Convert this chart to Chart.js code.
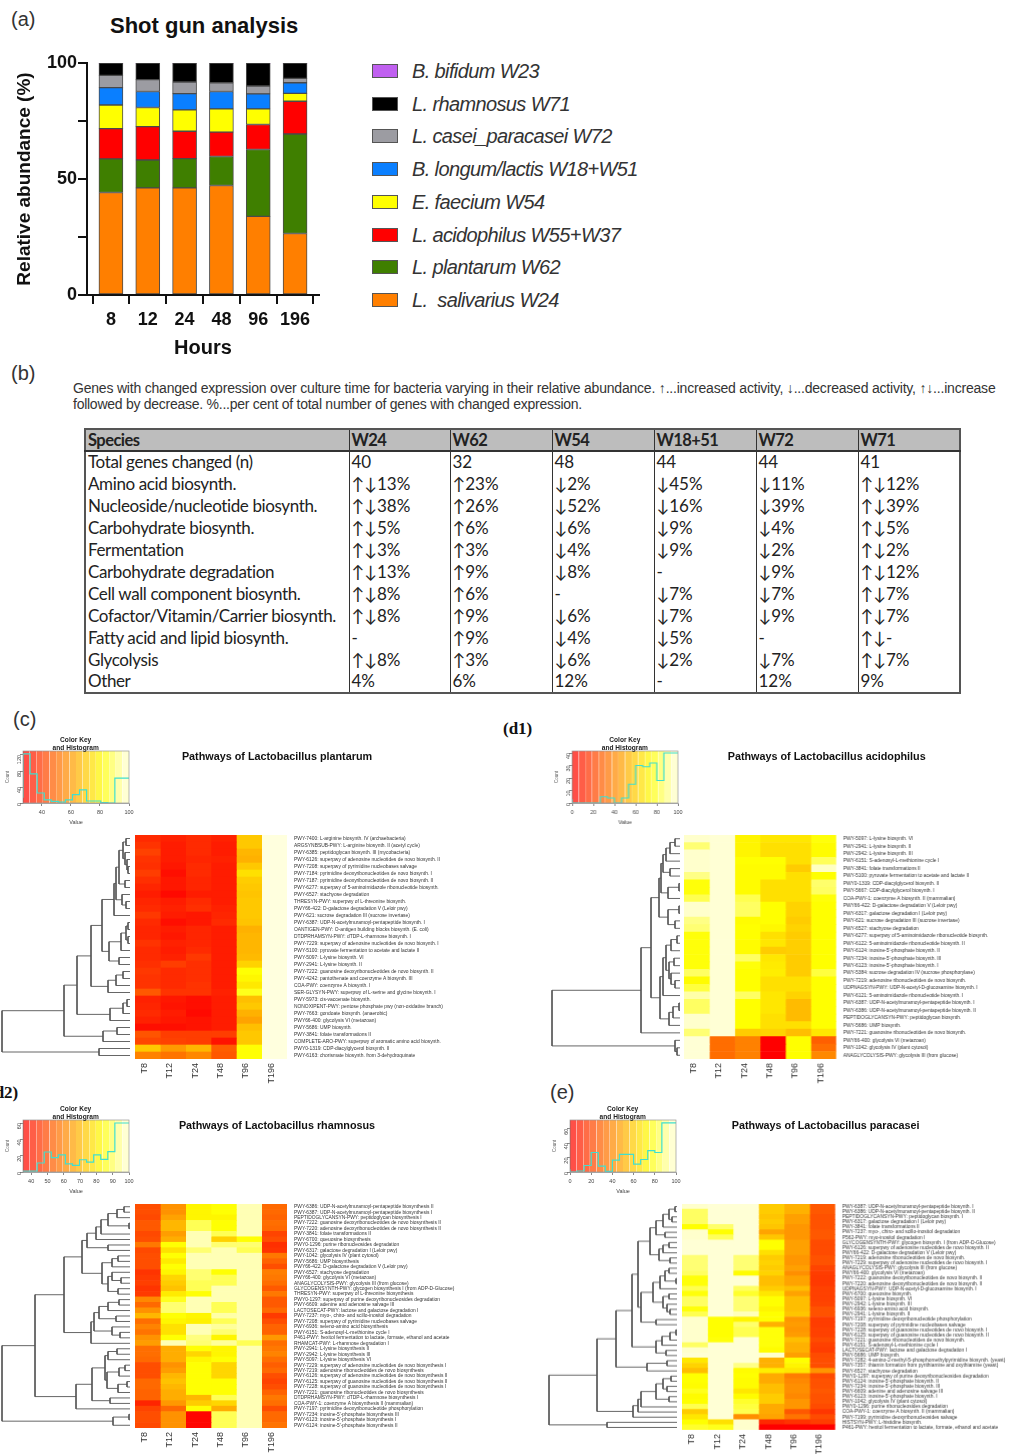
<!DOCTYPE html>
<html>
<head>
<meta charset="utf-8">
<script src="https://cdn.jsdelivr.net/npm/chart.js@4"></script>
<style>
html, body { margin: 0; padding: 0; background: #fff; }
#page { position: relative; width: 1011px; height: 1454px; overflow: hidden; font-family: "Liberation Sans", Arial, sans-serif; color: #222; }
#page canvas { position: absolute; }
.txt { position: absolute; white-space: pre; }
.blur { filter: blur(0.45px); }
#geneTable { position: absolute; left: 84px; top: 428px; width: 875px; border-collapse: collapse; table-layout: fixed;
  font-family: Lato, "DejaVu Sans", sans-serif; font-size: 17px; line-height: 18px; color: #222; border: 2px solid #555; }
#geneTable th { background: #bdbdbd; text-align: left; font-weight: bold; font-size: 16.5px; letter-spacing: -0.55px; height: 20px; padding: 0 0 0 2px; border-bottom: 2px solid #333; border-left: 1.5px solid #333; white-space: nowrap; }
#geneTable td { height: 22px; padding: 0 0 1px 2px; box-sizing: border-box; border-left: 1.5px solid #333; white-space: nowrap; }
#geneTable td:first-child { letter-spacing: -0.38px; }
</style>
</head>
<body>
<div id="page"></div>
<script>
// (a) shotgun abundance, % per time point
const hours = ['8', '12', '24', '48', '96', '196'];
const salivarius = [44.2, 46.2, 46.2, 47.2, 33.9, 26.5];
const plantarum = [14.5, 12.0, 12.6, 12.5, 28.8, 42.9];
const acidophilus = [13.0, 14.4, 11.8, 10.5, 10.8, 14.1];
const faecium = [10.2, 8.2, 9.2, 10.0, 6.7, 3.4];
const longum = [7.5, 6.9, 7.0, 7.5, 6.5, 4.6];
const casei = [5.3, 5.1, 5.0, 3.8, 3.4, 1.9];
const rhamnosus = [5.3, 7.2, 8.2, 8.5, 9.9, 6.6];
const bifidum = [0, 0, 0, 0, 0, 0];
const abundanceNames = ['L.  salivarius W24', 'L. plantarum W62', 'L. acidophilus W55+W37', 'E. faecium W54', 'B. longum/lactis W18+W51', 'L. casei_paracasei W72', 'L. rhamnosus W71', 'B. bifidum W23'];
const abundanceColors = ['#ff7f00', '#3f7f00', '#ff0000', '#ffff00', '#0a7fff', '#9c9ca2', '#000000', '#c060f0'];

// (b) table
const tableHead = ['Species', 'W24', 'W62', 'W54', 'W18+51', 'W72', 'W71'];
const tableRows = [
  ['Total genes changed (n)', '40', '32', '48', '44', '44', '41'],
  ['Amino acid biosynth.', '↑↓13%', '↑23%', '↓2%', '↓45%', '↓11%', '↑↓12%'],
  ['Nucleoside/nucleotide biosynth.', '↑↓38%', '↑26%', '↓52%', '↓16%', '↓39%', '↑↓39%'],
  ['Carbohydrate biosynth.', '↑↓5%', '↑6%', '↓6%', '↓9%', '↓4%', '↑↓5%'],
  ['Fermentation', '↑↓3%', '↑3%', '↓4%', '↓9%', '↓2%', '↑↓2%'],
  ['Carbohydrate degradation', '↑↓13%', '↑9%', '↓8%', '-', '↓9%', '↑↓12%'],
  ['Cell wall component biosynth.', '↑↓8%', '↑6%', '-', '↓7%', '↓7%', '↑↓7%'],
  ['Cofactor/Vitamin/Carrier biosynth.', '↑↓8%', '↑9%', '↓6%', '↓7%', '↓9%', '↑↓7%'],
  ['Fatty acid and lipid biosynth.', '-', '↑9%', '↓4%', '↓5%', '-', '↑↓-'],
  ['Glycolysis', '↑↓8%', '↑3%', '↓6%', '↓2%', '↓7%', '↑↓7%'],
  ['Other', '4%', '6%', '12%', '-', '12%', '9%']
];
const tableWidths = [264, 101, 102, 102, 102, 102, 102];

const timeCols = ['T8', 'T12', 'T24', 'T48', 'T96', 'T196'];

// (c) L. plantarum
const rowsC = ['PWY-7400: L-arginine biosynth. IV (archaebacteria)', 'ARGSYNBSUB-PWY: L-arginine biosynth. II (acetyl cycle)', 'PWY-6385: peptidoglycan biosynth. III (mycobacteria)', 'PWY-6126: superpwy of adenosine nucleotides de novo biosynth. II', 'PWY-7208: superpwy of pyrimidine nucleobases salvage', 'PWY-7184: pyrimidine deoxyribonucleotides de novo biosynth. I', 'PWY-7187: pyrimidine deoxyribonucleotides de novo biosynth. II', 'PWY-6277: superpwy of 5-aminoimidazole ribonucleotide biosynth.', 'PWY-6527: stachyose degradation', 'THRESYN-PWY: superpwy of L-threonine biosynth.', 'PWY66-422: D-galactose degradation V (Leloir pwy)', 'PWY-621: sucrose degradation III (sucrose invertase)', 'PWY-6387: UDP-N-acetylmuramoyl-pentapeptide biosynth. I', 'OANTIGEN-PWY: O-antigen building blocks biosynth. (E. coli)', 'DTDPRHAMSYN-PWY: dTDP-L-rhamnose biosynth. I', 'PWY-7229: superpwy of adenosine nucleotides de novo biosynth. I', 'PWY-5100: pyruvate fermentation to acetate and lactate II', 'PWY-5097: L-lysine biosynth. VI', 'PWY-2941: L-lysine biosynth. II', 'PWY-7222: guanosine deoxyribonucleotides de novo biosynth. II', 'PWY-4242: pantothenate and coenzyme A biosynth. III', 'COA-PWY: coenzyme A biosynth. I', 'SER-GLYSYN-PWY: superpwy of L-serine and glycine biosynth. I', 'PWY-5973: cis-vaccenate biosynth.', 'NONOXIPENT-PWY: pentose phosphate pwy (non-oxidative branch)', 'PWY-7663: gondoate biosynth. (anaerobic)', 'PWY66-400: glycolysis VI (metazoan)', 'PWY-5686: UMP biosynth.', 'PWY-3841: folate transformations II', 'COMPLETE-ARO-PWY: superpwy of aromatic amino acid biosynth.', 'PWY0-1319: CDP-diacylglycerol biosynth. II', 'PWY-6163: chorismate biosynth. from 3-dehydroquinate'];
const valsC = [[36,34,36,34,70,100],[38,33,36,33,70,100],[41,33,36,33,66,100],[38,33,35,34,65,100],[37,32,36,33,70,100],[40,30,36,33,75,100],[37,32,35,33,71,100],[35,32,35,33,70,100],[33,29,33,33,69,100],[35,33,36,33,70,100],[36,34,37,34,70,100],[39,33,32,35,70,100],[36,30,32,36,69,100],[35,33,35,33,65,100],[35,32,35,33,66,100],[38,34,35,33,66,100],[36,33,36,33,66,100],[36,34,39,33,67,100],[37,40,37,33,72,100],[39,36,37,33,82,100],[38,36,37,33,80,100],[38,36,38,33,77,100],[46,38,38,34,84,100],[34,32,30,33,68,100],[35,31,30,33,70,100],[36,33,29,33,65,100],[34,32,31,33,62,100],[30,30,31,33,68,100],[45,40,40,40,70,100],[42,41,40,31,70,100],[70,60,66,47,82,100],[55,52,56,46,82,100]];
const histC = [13,123,73,25,8,4,2,8,21,33,5,5,1,0,62];
const treeC = [128,[66,[53,[39,[28,[16,[14,[11,[7,[4,0,1],[5,2,[3,3,[2,4,5]]]],[5,6,7]],[8,8,[4,9,10]]],11],[21,[9,[4,[2,12,13],[2,14,15]],16],[11,17,18]]],[22,[14,[7,19,20],21],22]],[20,[7,[3,23,24],25],26]],[27,[13,27,28],29]],[31,30,31]];

// (d1) L. acidophilus
const rowsD = ['PWY-5097: L-lysine biosynth. VI', 'PWY-2941: L-lysine biosynth. II', 'PWY-2942: L-lysine biosynth. III', 'PWY-6151: S-adenosyl-L-methionine cycle I', 'PWY-3841: folate transformations II', 'PWY-5100: pyruvate fermentation to acetate and lactate II', 'PWY0-1319: CDP-diacylglycerol biosynth. II', 'PWY-5667: CDP-diacylglycerol biosynth. I', 'COA-PWY-1: coenzyme A biosynth. II (mammalian)', 'PWY66-422: D-galactose degradation V (Leloir pwy)', 'PWY-6317: galactose degradation I (Leloir pwy)', 'PWY-621: sucrose degradation III (sucrose invertase)', 'PWY-6527: stachyose degradation', 'PWY-6277: superpwy of 5-aminoimidazole ribonucleotide biosynth.', 'PWY-6122: 5-aminoimidazole ribonucleotide biosynth. II', 'PWY-6124: inosine-5\'-phosphate biosynth. II', 'PWY-7234: inosine-5\'-phosphate biosynth. III', 'PWY-6123: inosine-5\'-phosphate biosynth. I', 'PWY-5384: sucrose degradation IV (sucrose phosphorylase)', 'PWY-7219: adenosine ribonucleotides de novo biosynth.', 'UDPNAGSYN-PWY: UDP-N-acetyl-D-glucosamine biosynth. I', 'PWY-6121: 5-aminoimidazole ribonucleotide biosynth. I', 'PWY-6387: UDP-N-acetylmuramoyl-pentapeptide biosynth. I', 'PWY-6386: UDP-N-acetylmuramoyl-pentapeptide biosynth. II', 'PEPTIDOGLYCANSYN-PWY: peptidoglycan biosynth.', 'PWY-5686: UMP biosynth.', 'PWY-7221: guanosine ribonucleotides de novo biosynth.', 'PWY66-400: glycolysis VI (metazoan)', 'PWY-1042: glycolysis IV (plant cytosol)', 'ANAGLYCOLYSIS-PWY: glycolysis III (from glucose)'];
const valsD = [[98,99,72,68,68,76],[88,99,72,66,66,74],[98,99,72,66,66,74],[98,99,75,75,66,85],[98,99,74,74,60,97],[90,99,74,74,66,75],[76,99,74,66,66,87],[76,99,74,66,66,86],[84,99,84,66,66,76],[98,99,86,75,62,75],[98,99,86,75,62,75],[90,99,74,75,60,75],[88,99,75,73,62,75],[76,99,75,66,60,75],[76,99,74,68,61,75],[76,99,74,60,61,75],[76,99,86,68,60,75],[76,99,76,69,60,75],[86,99,75,70,60,82],[74,99,75,66,66,75],[82,99,75,66,66,75],[94,99,86,68,62,75],[86,99,75,68,55,75],[86,99,75,68,55,75],[98,99,75,66,55,75],[98,99,75,66,66,75],[88,99,60,62,56,68],[99,32,38,0,75,28],[99,32,38,0,75,32],[99,32,38,0,75,40]];
const histD = [3,0,0,0,0,5,4,0,4,15,30,29,32,18,40];
const treeD = [128,[39,[29,[21,[19,[17,[14,[10,[5,0,1],2],3],[10,4,5]],[12,[1,6,7],8]],[12,[1,9,10],[5,11,12]]],[20,[17,[14,[9,[3,13,14],15],[11,[6,16,17],[9,18,[5,19,20]]]],21],[11,[7,[1,22,23],24],25]]],26],[5,27,[3,28,29]]];

// (d2) L. rhamnosus
const rowsR = ['PWY-6386: UDP-N-acetylmuramoyl-pentapeptide biosynthesis II', 'PWY-6387: UDP-N-acetylmuramoyl-pentapeptide biosynthesis I', 'PEPTIDOGLYCANSYN-PWY: peptidoglycan biosynthesis I', 'PWY-7222: guanosine deoxyribonucleotides de novo biosynthesis II', 'PWY-7220: adenosine deoxyribonucleotides de novo biosynthesis II', 'PWY-3841: folate transformations II', 'PWY-6700: queuosine biosynthesis', 'PWY0-1296: purine ribonucleosides degradation', 'PWY-6317: galactose degradation I (Leloir pwy)', 'PWY-1042: glycolysis IV (plant cytosol)', 'PWY-5686: UMP biosynthesis', 'PWY66-422: D-galactose degradation V (Leloir pwy)', 'PWY-6527: stachyose degradation', 'PWY66-400: glycolysis VI (metazoan)', 'ANAGLYCOLYSIS-PWY: glycolysis III (from glucose)', 'GLYCOGENSYNTH-PWY: glycogen biosynthesis I (from ADP-D-Glucose)', 'THRESYN-PWY: superpwy of L-threonine biosynthesis', 'PWY0-1297: superpwy of purine deoxyribonucleosides degradation', 'PWY-6609: adenine and adenosine salvage III', 'LACTOSECAT-PWY: lactose and galactose degradation I', 'PWY-7237: myo-, chiro- and scillo-inositol degradation', 'PWY-7208: superpwy of pyrimidine nucleobases salvage', 'PWY-6936: seleno-amino acid biosynthesis', 'PWY-6151: S-adenosyl-L-methionine cycle I', 'P461-PWY: hexitol fermentation to lactate, formate, ethanol and acetate', 'RHAMCAT-PWY: L-rhamnose degradation I', 'PWY-2941: L-lysine biosynthesis II', 'PWY-2942: L-lysine biosynthesis III', 'PWY-5097: L-lysine biosynthesis VI', 'PWY-7229: superpwy of adenosine nucleotides de novo biosynthesis I', 'PWY-7219: adenosine ribonucleotides de novo biosynthesis', 'PWY-6126: superpwy of adenosine nucleotides de novo biosynthesis II', 'PWY-6125: superpwy of guanosine nucleotides de novo biosynthesis II', 'PWY-7228: superpwy of guanosine nucleotides de novo biosynthesis I', 'PWY-7221: guanosine ribonucleotides de novo biosynthesis', 'DTDPRHAMSYN-PWY: dTDP-L-rhamnose biosynthesis I', 'COA-PWY-1: coenzyme A biosynthesis II (mammalian)', 'PWY-7197: pyrimidine deoxyribonucleotide phosphorylation', 'PWY-7234: inosine-5\'-phosphate biosynthesis III', 'PWY-6123: inosine-5\'-phosphate biosynthesis I', 'PWY-6124: inosine-5\'-phosphate biosynthesis II'];
const valsR = [[50,63,82,84,97,55],[50,63,82,84,97,55],[49,66,82,82,97,54],[52,70,90,84,97,56],[52,70,90,84,97,55],[49,65,97,90,97,48],[50,68,97,75,84,50],[58,84,97,92,92,44],[49,78,92,97,90,45],[50,84,97,97,97,58],[50,80,97,97,97,54],[50,84,97,97,97,50],[45,82,92,84,97,59],[46,76,92,90,97,58],[47,74,90,90,97,56],[45,72,90,97,97,52],[46,80,84,97,97,58],[61,86,97,97,97,52],[55,92,97,90,97,52],[63,92,97,90,97,55],[70,84,82,96,97,46],[56,82,81,90,97,50],[60,78,97,95,97,54],[57,78,97,92,97,54],[63,84,93,82,97,64],[65,97,92,95,90,56],[56,68,84,82,97,58],[56,68,76,82,97,60],[55,68,82,84,97,56],[50,63,84,76,97,53],[50,65,84,76,97,55],[50,70,84,76,97,50],[55,72,84,84,97,48],[55,70,84,84,97,50],[54,68,84,84,97,54],[54,68,70,90,97,58],[42,64,74,76,97,56],[48,55,84,68,97,50],[50,63,36,90,97,55],[50,63,36,90,97,55],[49,63,36,90,97,57]];
const histR = [1,1,1,11,24.5,17.5,21,10,8,15,12,21,15.5,25,60];
const treeR = [128,[95,[66,[48,[43,[34,[29,[22,[13,[6,0,1],2],[1,3,4]],5],6],[22,7,8]],[28,[18,[12,9,10],11],[22,[18,12,[9,13,14]],[12,15,16]]]],[39,[36,[31,[22,[11,17,18],19],[14,20,21]],[18,22,[10,23,24]]],25]],[54,[38,[25,[22,[13,26,27],28],[23,[11,[5,29,30],31],[12,[3,32,33],34]]],[20,35,36]],37]],[17,[1,38,39],40]];

// (e) L. paracasei
const rowsE = ['PWY-6387: UDP-N-acetylmuramoyl-pentapeptide biosynth. I', 'PWY-6386: UDP-N-acetylmuramoyl-pentapeptide biosynth. II', 'PEPTIDOGLYCANSYN-PWY: peptidoglycan biosynth. I', 'PWY-6317: galactose degradation I (Leloir pwy)', 'PWY-3841: folate transformations II', 'PWY-7237: myo-, chiro- and scillo-inositol degradation', 'P562-PWY: myo-inositol degradation I', 'GLYCOGENSYNTH-PWY: glycogen biosynth. I (from ADP-D-Glucose)', 'PWY-6126: superpwy of adenosine nucleotides de novo biosynth. II', 'PWY66-422: D-galactose degradation V (Leloir pwy)', 'PWY-7219: adenosine ribonucleotides de novo biosynth.', 'PWY-7229: superpwy of adenosine nucleotides de novo biosynth. I', 'ANAGLYCOLYSIS-PWY: glycolysis III (from glucose)', 'PWY66-400: glycolysis VI (metazoan)', 'PWY-7222: guanosine deoxyribonucleotides de novo biosynth. II', 'PWY-7220: adenosine deoxyribonucleotides de novo biosynth. II', 'UDPNAGSYN-PWY: UDP-N-acetyl-D-glucosamine biosynth. I', 'PWY-6700: queuosine biosynth.', 'PWY-5097: L-lysine biosynth. VI', 'PWY-2942: L-lysine biosynth. III', 'PWY-6936: seleno-amino acid biosynth.', 'PWY-2941: L-lysine biosynth. II', 'PWY-7197: pyrimidine deoxyribonucleotide phosphorylation', 'PWY-7208: superpwy of pyrimidine nucleobases salvage', 'PWY-7228: superpwy of guanosine nucleotides de novo biosynth. I', 'PWY-6125: superpwy of guanosine nucleotides de novo biosynth. II', 'PWY-7221: guanosine ribonucleotides de novo biosynth.', 'PWY-6151: S-adenosyl-L-methionine cycle I', 'LACTOSECAT-PWY: lactose and galactose degradation I', 'PWY-5686: UMP biosynth.', 'PWY-7282: 4-amino-2-methyl-5-phosphomethylpyrimidine biosynth. (yeast)', 'PWY-7357: thiamin formation from pyrithiamine and oxythiamine (yeast)', 'PWY-6527: stachyose degradation', 'PWY0-1297: superpwy of purine deoxyribonucleosides degradation', 'PWY-6124: inosine-5\'-phosphate biosynth. II', 'PWY-7234: inosine-5\'-phosphate biosynth. III', 'PWY-6609: adenine and adenosine salvage III', 'PWY-6123: inosine-5\'-phosphate biosynth. I', 'PWY-1042: glycolysis IV (plant cytosol)', 'PWY0-1296: purine ribonucleosides degradation', 'COA-PWY-1: coenzyme A biosynth. II (mammalian)', 'PWY-7199: pyrimidine deoxyribonucleosides salvage', 'HISTSYN-PWY: L-histidine biosynth.', 'P461-PWY: hexitol fermentation to lactate, formate, ethanol and acetate'];
const valsE = [[98,99,99,60,52,26],[86,99,99,60,52,26],[86,99,99,58,47,24],[86,99,99,60,47,24],[75,87,99,58,44,24],[98,75,99,48,44,26],[98,85,99,58,44,26],[99,99,99,75,47,22],[99,99,99,75,47,22],[99,99,99,66,47,22],[88,99,88,60,44,24],[88,99,88,62,44,24],[88,99,88,60,47,20],[86,99,74,62,42,18],[76,99,99,56,48,17],[76,99,99,56,48,17],[84,99,86,60,56,19],[76,99,80,68,48,19],[86,99,88,75,56,19],[86,99,88,75,56,20],[76,99,88,72,56,24],[84,99,96,75,58,24],[98,75,72,75,44,18],[98,75,87,52,46,18],[98,75,84,76,44,19],[98,75,84,76,46,19],[98,76,99,76,56,22],[86,99,99,76,52,19],[98,99,99,74,52,18],[99,99,99,98,47,22],[68,99,99,52,75,23],[62,99,90,52,72,23],[56,99,74,70,68,44],[75,99,75,50,37,22],[75,99,74,50,40,24],[74,99,74,56,42,24],[78,99,68,56,42,26],[74,99,74,60,40,24],[75,99,80,60,44,24],[84,99,82,50,44,22],[60,99,84,50,26,16],[68,99,42,48,34,22],[75,66,98,12,15,18],[80,78,98,0,0,0]];
const histE = [3.7,0,1.4,9,27,8,1,16.4,24.5,24.5,11,17.3,29.5,27,68];
const treeE = [128,[80,[61,[45,[39,[27,[21,[14,[8,[2,0,1],[5,2,3]],4],[12,5,6]],[18,[14,[8,7,8],9],[7,10,11]]],[36,[24,[17,[12,[8,12,13],[1,14,15]],16],[14,[8,17,18],[10,19,[7,20,21]]]],[21,22,23]]],[21,[15,[7,[1,24,25],26],27],[11,28,29]]],[30,[10,30,31],32]],[44,[39,[36,[21,[14,[6,33,34],[10,35,36]],[8,37,38]],39],40],41]],[70,42,43]];

Chart.defaults.animation = false;
Chart.defaults.font.family = '"Liberation Sans", Arial, sans-serif';
Chart.defaults.plugins.legend.display = false;
Chart.defaults.plugins.tooltip.enabled = false;

const page = document.getElementById('page');

function addText(str, left, top, css) {
  const el = document.createElement('div');
  el.className = 'txt';
  el.textContent = str;
  el.style.left = left + 'px';
  el.style.top = top + 'px';
  el.style.cssText += css || '';
  page.appendChild(el);
  return el;
}

function addCanvas(left, top, w, h, blur) {
  const c = document.createElement('canvas');
  c.width = w;
  c.height = h;
  c.style.left = left + 'px';
  c.style.top = top + 'px';
  c.style.width = w + 'px';
  c.style.height = h + 'px';
  if (blur) c.className = 'blur';
  page.appendChild(c);
  return c.getContext('2d');
}

// R heat.colors: red to yellow over first 3/4, then yellow fading to pale
function heat(t, alpha) {
  t = Math.max(0, Math.min(1, t));
  const a = alpha === undefined ? 1 : alpha;
  if (t < 0.75) return 'rgba(255,' + Math.round(255 * t / 0.75) + ',0,' + a + ')';
  return 'rgba(255,255,' + Math.round(222 * (t - 0.75) / 0.25) + ',' + a + ')';
}

function noPad(ax) {
  ax.paddingTop = 0;
  ax.paddingBottom = 0;
  ax.paddingLeft = 0;
  ax.paddingRight = 0;
}

function drawAbundance() {
  const ctx = addCanvas(0, 40, 345, 320);
  const series = [salivarius, plantarum, acidophilus, faecium, longum, casei, rhamnosus, bifidum];
  new Chart(ctx, {
    type: 'bar',
    data: {
      datasets: series.map((vals, k) => ({
        label: abundanceNames[k],
        data: vals.map((v, i) => ({ x: i + 1, y: v })),
        backgroundColor: abundanceColors[k],
        borderColor: '#4a4a4a',
        borderWidth: vals.some(v => v > 0) ? 1 : 0,
        borderSkipped: false,
        barThickness: 24
      }))
    },
    options: {
      responsive: false,
      layout: { padding: { top: 23, right: 26 } },
      scales: {
        x: {
          type: 'linear', stacked: true, min: 0.35, max: 6.65, offset: false,
          afterBuildTicks: ax => { ax.ticks = hours.map((h, i) => ({ value: i + 1 })); },
          afterFit: ax => { ax.height = 65; noPad(ax); },
          ticks: { autoSkip: false, maxRotation: 0, color: '#111', padding: 5, font: { size: 18, weight: 'bold' }, callback: v => hours[v - 1] },
          grid: { drawOnChartArea: false, color: '#111', lineWidth: 2, tickLength: 9 },
          border: { color: '#111', width: 2 },
          title: { display: true, text: 'Hours', color: '#111', font: { size: 20, weight: 'bold' }, padding: { top: 4, bottom: 0 } }
        },
        y: {
          stacked: true, min: 0, max: 100,
          afterBuildTicks: ax => { ax.ticks = [0, 25, 50, 75, 100].map(v => ({ value: v })); },
          afterFit: ax => { ax.width = 87; noPad(ax); },
          ticks: { color: '#111', padding: 1, font: { size: 18, weight: 'bold' }, callback: v => (v % 50 === 0 ? String(v) : '') },
          grid: { drawOnChartArea: false, color: '#111', lineWidth: 2, tickLength: 9 },
          border: { color: '#111', width: 2 },
          title: { display: true, text: 'Relative abundance (%)', color: '#111', font: { size: 19, weight: 'bold' }, padding: { top: 13, bottom: 0 } }
        }
      }
    }
  });
  // legend, top entry is last series
  for (let k = abundanceNames.length - 1; k >= 0; k--) {
    const row = abundanceNames.length - 1 - k;
    const cy = 71 + row * 32.7;
    const sw = document.createElement('div');
    sw.style.cssText = 'position:absolute;box-sizing:border-box;left:372px;width:26px;height:14px;border:1px solid #555;top:' + (cy - 7) + 'px;background:' + abundanceColors[k];
    page.appendChild(sw);
    addText(abundanceNames[k], 412, cy - 11, 'font-size:20px;font-style:italic;color:#333;letter-spacing:-0.62px;');
  }
}

function buildTable() {
  const t = document.createElement('table');
  t.id = 'geneTable';
  const cg = document.createElement('colgroup');
  tableWidths.forEach(w => { const c = document.createElement('col'); c.style.width = w + 'px'; cg.appendChild(c); });
  t.appendChild(cg);
  const hr = t.insertRow();
  tableHead.forEach(h => { const th = document.createElement('th'); th.textContent = h; hr.appendChild(th); });
  tableRows.forEach(r => {
    const tr = t.insertRow();
    r.forEach(s => { tr.insertCell().textContent = s; });
  });
  page.appendChild(t);
}

function drawKey(box, lo, hist, yMax, yStep, yLabelStep, xStep) {
  const ctx = addCanvas(box.x - 18, box.y - 3, box.w + 18 + 8, box.h + 3 + 23, true);
  const bands = [];
  const nBands = 16;
  for (let i = 0; i < nBands; i++) {
    const a = lo + (100 - lo) * i / nBands;
    const b = lo + (100 - lo) * (i + 1) / nBands;
    bands.push({
      type: 'line',
      data: [{ x: a, y: yMax }, { x: b, y: yMax }],
      backgroundColor: heat((i + 0.5) / nBands, 0.72),
      fill: 'origin', pointRadius: 0, borderWidth: 0, order: 2
    });
  }
  const histPts = hist.map((c, i) => ({ x: lo + (100 - lo) * i / hist.length, y: c }));
  histPts.push({ x: 100, y: hist[hist.length - 1] });
  new Chart(ctx, {
    type: 'scatter',
    data: {
      datasets: bands.concat([{
        type: 'line', data: histPts, stepped: 'after', borderColor: '#3fe0d0', borderWidth: 1.2, pointRadius: 0, fill: false, order: 1
      }])
    },
    options: {
      responsive: false,
      layout: { padding: { top: 3, right: 8 } },
      scales: {
        x: {
          type: 'linear', min: lo, max: 100,
          afterBuildTicks: ax => {
            const tk = [];
            for (let v = 100; v >= lo; v -= xStep) tk.unshift({ value: v });
            ax.ticks = tk;
          },
          afterFit: ax => { ax.height = 23; noPad(ax); },
          ticks: { autoSkip: false, maxRotation: 0, color: '#444', padding: 3, font: { size: 5.5 } },
          grid: { drawOnChartArea: false, color: '#555', tickLength: 3, lineWidth: 0.7 },
          border: { color: '#888', width: 0.7 },
          title: { display: true, text: 'Value', color: '#444', font: { size: 5.5 }, padding: { top: 2, bottom: 0 } }
        },
        y: {
          min: 0, max: yMax,
          afterBuildTicks: ax => {
            const tk = [];
            for (let v = 0; v <= yMax; v += yStep) tk.push({ value: v });
            ax.ticks = tk;
          },
          afterFit: ax => { ax.width = 18; noPad(ax); },
          ticks: { minRotation: 90, maxRotation: 90, color: '#444', padding: 1, font: { size: 5.5 }, callback: v => (v % yLabelStep === 0 ? String(v) : '') },
          grid: { drawOnChartArea: false, color: '#555', tickLength: 3, lineWidth: 0.7 },
          border: { color: '#888', width: 0.7 },
          title: { display: true, text: 'Count', color: '#666', font: { size: 4.5 }, padding: { top: 0, bottom: 0 } }
        }
      }
    },
    plugins: [{
      id: 'keyBox',
      afterDraw(chart) {
        const a = chart.chartArea, c = chart.ctx;
        c.save();
        c.strokeStyle = '#999';
        c.lineWidth = 0.7;
        c.strokeRect(a.left, a.top, a.right - a.left, a.bottom - a.top);
        c.restore();
      }
    }]
  });
  addText('Color Key', box.x, box.y - 15, 'width:' + box.w + 'px;text-align:center;font-size:6.6px;font-weight:bold;color:#222;filter:blur(.25px);');
  addText('and Histogram', box.x, box.y - 7, 'width:' + box.w + 'px;text-align:center;font-size:6.6px;font-weight:bold;color:#222;filter:blur(.25px);');
}

function drawHeat(box, rows, vals, lo) {
  const labelW = 1011 - box.x - box.w;
  const ctx = addCanvas(box.x, box.y, box.w + labelW, box.h + 32, true);
  new Chart(ctx, {
    type: 'bar',
    data: {
      labels: rows,
      datasets: timeCols.map((col, j) => ({
        label: col,
        data: rows.map(() => 1),
        backgroundColor: vals.map(r => heat((r[j] - lo) / (100 - lo))),
        borderWidth: 0,
        barPercentage: 1,
        categoryPercentage: 1
      }))
    },
    options: {
      indexAxis: 'y',
      responsive: false,
      layout: { padding: 0 },
      scales: {
        x: {
          type: 'linear', stacked: true, min: 0, max: 6,
          afterBuildTicks: ax => { ax.ticks = timeCols.map((c, j) => ({ value: j + 0.5 })); },
          afterFit: ax => { ax.height = 32; noPad(ax); },
          ticks: { autoSkip: false, minRotation: 90, maxRotation: 90, color: '#333', padding: 4, labelOffset: -3, font: { size: 9 }, callback: v => timeCols[v - 0.5] },
          grid: { display: false, drawTicks: false },
          border: { display: false }
        },
        y: {
          type: 'category', stacked: true, position: 'right',
          afterFit: ax => { ax.width = labelW; noPad(ax); },
          ticks: { autoSkip: false, color: '#333', padding: 7, font: { size: 4.9 } },
          grid: { display: false, drawTicks: false },
          border: { display: false }
        }
      }
    }
  });
}

function treeSegments(node, out) {
  if (typeof node === 'number') return { h: 0, y: node };
  const a = treeSegments(node[1], out);
  const b = treeSegments(node[2], out);
  out.push([{ x: a.h, y: a.y }, { x: node[0], y: a.y }, { x: node[0], y: b.y }, { x: b.h, y: b.y }]);
  return { h: node[0], y: (a.y + b.y) / 2 };
}

function drawTree(left, top, height, tree, nRows) {
  const ctx = addCanvas(left, top, 130, height, true);
  const segs = [];
  treeSegments(tree, segs);
  new Chart(ctx, {
    type: 'scatter',
    data: { datasets: segs.map(s => ({ data: s, showLine: true, borderColor: '#555', borderWidth: 0.9, pointRadius: 0 })) },
    options: {
      responsive: false,
      layout: { padding: 0 },
      scales: {
        x: { display: false, min: 0, max: 130, reverse: true },
        y: { display: false, min: -0.5, max: nRows - 0.5, reverse: true }
      }
    }
  });
}

drawAbundance();

addText('(a)', 11, 8, 'font-size:20px;color:#333;');
addText('Shot gun analysis', 110, 13, 'font-size:22px;font-weight:bold;color:#111;');
addText('(b)', 11, 362, 'font-size:20px;color:#333;');
addText('Genes with changed expression over culture time for bacteria varying in their relative abundance. ↑...increased activity, ↓...decreased activity, ↑↓...increase', 73, 380, 'font-size:14px;letter-spacing:-0.2px;color:#333;');
addText('followed by decrease. %...per cent of total number of genes with changed expression.', 73, 396, 'font-size:14px;letter-spacing:-0.26px;color:#333;');
buildTable();

addText('(c)', 13, 708, 'font-size:20px;color:#333;');
addText('(d1)', 503, 719, 'font-family:\'Liberation Serif\',serif;font-size:17px;font-weight:bold;color:#111;');
addText('(d2)', -11, 1083, 'font-family:\'Liberation Serif\',serif;font-size:17px;font-weight:bold;color:#111;');
addText('(e)', 550, 1081, 'font-size:20px;color:#333;');

const titleCss = 'font-size:10.8px;font-weight:bold;color:#111;filter:blur(.25px);transform:translateX(-50%);';
addText('Pathways of Lactobacillus plantarum', 277, 750, titleCss);
addText('Pathways of Lactobacillus acidophilus', 826.7, 750, titleCss);
addText('Pathways of Lactobacillus rhamnosus', 277, 1119, titleCss);
addText('Pathways of Lactobacillus paracasei', 825.7, 1119, titleCss);

drawKey({ x: 22.7, y: 750.7, w: 106, h: 52 }, 27, histC, 130, 20, 40, 20);
drawKey({ x: 572, y: 750.7, w: 105.7, h: 52 }, 0, histD, 41.6, 5, 10, 20);
drawKey({ x: 22.7, y: 1119.5, w: 106, h: 52 }, 35, histR, 63.7, 10, 20, 10);
drawKey({ x: 569.7, y: 1119.5, w: 106, h: 52.5 }, 0, histE, 72, 10, 20, 20);

drawHeat({ x: 134.7, y: 835, w: 152.3, h: 224 }, rowsC, valsC, 27);
drawHeat({ x: 684.3, y: 835, w: 152.4, h: 224 }, rowsD, valsD, 0);
drawHeat({ x: 134.7, y: 1203.7, w: 152.3, h: 224.3 }, rowsR, valsR, 35);
drawHeat({ x: 682.3, y: 1204.3, w: 153.4, h: 225.4 }, rowsE, valsE, 0);

drawTree(0, 835, 224, treeC, rowsC.length);
drawTree(550, 835, 224, treeD, rowsD.length);
drawTree(0, 1203.7, 224.3, treeR, rowsR.length);
drawTree(547, 1204.3, 225.4, treeE, rowsE.length);
</script>
</body>
</html>
